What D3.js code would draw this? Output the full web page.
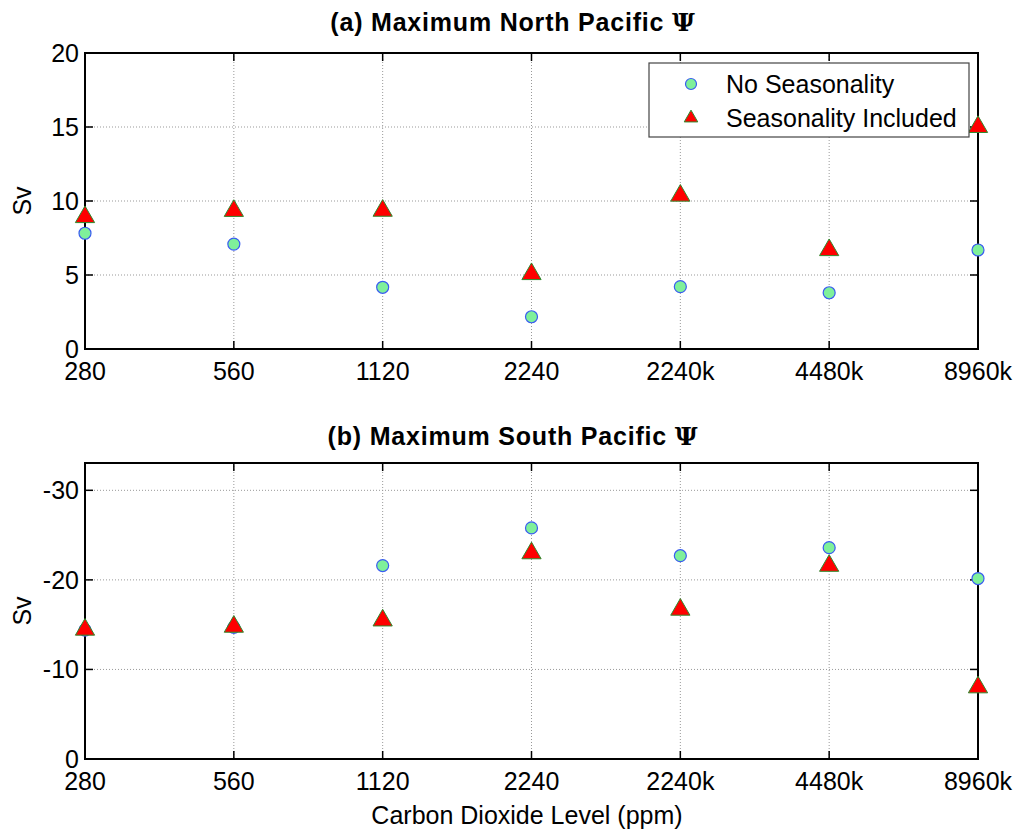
<!DOCTYPE html>
<html>
<head>
<meta charset="utf-8">
<script src="https://cdn.jsdelivr.net/npm/d3@7"></script>
<style>
  body { margin: 0; background: #fff; }
  svg text { font-family: "Liberation Sans", Arial, sans-serif; fill: #000; }
</style>
</head>
<body>
<svg id="chart" width="1018" height="834"></svg>
<script>
// CO2 levels (categorical)
const levels = ['280', '560', '1120', '2240', '2240k', '4480k', '8960k'];

// (a) North Pacific max streamfunction (Sv)
const northNoSeason = [7.82, 7.09, 4.17, 2.18, 4.21, 3.80, 6.69];
const northSeason = [9.05, 9.47, 9.48, 5.20, 10.50, 6.82, 15.14];

// (b) South Pacific max streamfunction (Sv)
const southNoSeason = [-14.4, -14.7, -21.6, -25.8, -22.7, -23.6, -20.15];
const southSeason = [-14.67, -15.0, -15.7, -23.2, -16.9, -21.8, -8.23];

const northTicks = [0, 5, 10, 15, 20];
const southTicks = [0, -10, -20, -30];

const svg = d3.select('#chart');
const left = 85, right = 978;
const fs = 25;

const x = d3.scalePoint().domain(levels).range([left, right]);

function drawPanel(cfg) {
    const y = d3.scaleLinear().domain(cfg.domain).range([cfg.bottom, cfg.top]);
    const g = svg.append('g');

    // grid
    g.selectAll('.vgrid')
      .data(levels.slice(1, -1))
      .enter().append('line')
        .attr('x1', d => x(d)).attr('x2', d => x(d))
        .attr('y1', cfg.top).attr('y2', cfg.bottom)
        .attr('stroke', '#999').attr('stroke-width', 1)
        .attr('stroke-dasharray', '1,2');
    g.selectAll('.hgrid')
      .data(cfg.ticks.filter(t => t !== 0 && Math.abs(t) < Math.abs(cfg.domain[1])))
      .enter().append('line')
        .attr('x1', left).attr('x2', right)
        .attr('y1', d => y(d)).attr('y2', d => y(d))
        .attr('stroke', '#999').attr('stroke-width', 1)
        .attr('stroke-dasharray', '1,2');

    // inner tick marks
    const tl = 8;
    levels.forEach(d => {
        g.append('line').attr('x1', x(d)).attr('x2', x(d))
            .attr('y1', cfg.bottom).attr('y2', cfg.bottom - tl)
            .attr('stroke', '#000').attr('stroke-width', 1.5);
        g.append('line').attr('x1', x(d)).attr('x2', x(d))
            .attr('y1', cfg.top).attr('y2', cfg.top + tl)
            .attr('stroke', '#000').attr('stroke-width', 1.5);
    });
    cfg.ticks.forEach(t => {
        g.append('line').attr('x1', left).attr('x2', left + tl)
            .attr('y1', y(t)).attr('y2', y(t))
            .attr('stroke', '#000').attr('stroke-width', 1.5);
        g.append('line').attr('x1', right).attr('x2', right - tl)
            .attr('y1', y(t)).attr('y2', y(t))
            .attr('stroke', '#000').attr('stroke-width', 1.5);
    });

    // box
    g.append('rect')
        .attr('x', left).attr('y', cfg.top)
        .attr('width', right - left).attr('height', cfg.bottom - cfg.top)
        .attr('fill', 'none').attr('stroke', '#000').attr('stroke-width', 2);

    // tick labels
    g.selectAll('.xl')
      .data(levels)
      .enter().append('text')
        .attr('x', d => x(d)).attr('y', cfg.bottom + 31)
        .attr('text-anchor', 'middle')
        .attr('font-size', fs)
        .text(d => d);
    g.selectAll('.yl')
      .data(cfg.ticks)
      .enter().append('text')
        .attr('x', left - 6).attr('y', d => y(d))
        .attr('dy', '0.36em')
        .attr('text-anchor', 'end')
        .attr('font-size', fs)
        .text(d => d);

    // y label
    g.append('text')
        .attr('transform', `translate(31,${(cfg.top + cfg.bottom) / 2}) rotate(-90)`)
        .attr('text-anchor', 'middle')
        .attr('font-size', fs)
        .text('Sv');

    // title
    const title = g.append('text')
        .attr('x', 513).attr('y', cfg.titleY)
        .attr('text-anchor', 'middle')
        .attr('font-size', fs)
        .attr('letter-spacing', 0.8)
        .attr('font-weight', 'bold');
    title.append('tspan').text(cfg.title + ' ');
    title.append('tspan').attr('font-family', '"DejaVu Serif", serif').text('Ψ');

    // markers: circles first, triangles on top
    g.selectAll('.c')
      .data(cfg.circles)
      .enter().append('circle')
        .attr('cx', (d, i) => x(levels[i]))
        .attr('cy', d => y(d))
        .attr('r', 6)
        .attr('fill', '#7ff09a')
        .attr('stroke', '#3a5cf0').attr('stroke-width', 1.2);

    const tri = d3.symbol().type(d3.symbolTriangle).size(160);
    g.selectAll('.t')
      .data(cfg.triangles)
      .enter().append('path')
        .attr('d', tri)
        .attr('transform', (d, i) => `translate(${x(levels[i])},${y(d) + 2})`)
        .attr('fill', '#ff0000')
        .attr('stroke', '#2e8b2e').attr('stroke-width', 1);

    return g;
}

drawPanel({
    top: 53, bottom: 349, domain: [0, 20], ticks: northTicks,
    title: '(a) Maximum North Pacific', titleY: 31,
    circles: northNoSeason, triangles: northSeason
});

drawPanel({
    top: 463, bottom: 759, domain: [0, -33.05], ticks: southTicks,
    title: '(b) Maximum South Pacific', titleY: 445,
    circles: southNoSeason, triangles: southSeason
});

// legend
const lg = svg.append('g');
lg.append('rect')
    .attr('x', 649).attr('y', 63).attr('width', 320).attr('height', 74)
    .attr('fill', '#fff').attr('stroke', '#444').attr('stroke-width', 1.2);
lg.append('circle')
    .attr('cx', 691).attr('cy', 84).attr('r', 5.5)
    .attr('fill', '#7ff09a').attr('stroke', '#3a5cf0').attr('stroke-width', 1.2);
lg.append('path')
    .attr('d', d3.symbol().type(d3.symbolTriangle).size(80))
    .attr('transform', 'translate(691,118)')
    .attr('fill', '#ff0000').attr('stroke', '#2e8b2e').attr('stroke-width', 1);
lg.append('text').attr('x', 726).attr('y', 93).attr('font-size', fs).text('No Seasonality');
lg.append('text').attr('x', 726).attr('y', 127).attr('font-size', fs).text('Seasonality Included');

// x label
svg.append('text')
    .attr('x', 527).attr('y', 824)
    .attr('text-anchor', 'middle')
    .attr('font-size', fs)
    .text('Carbon Dioxide Level (ppm)');
</script>
</body>
</html>
